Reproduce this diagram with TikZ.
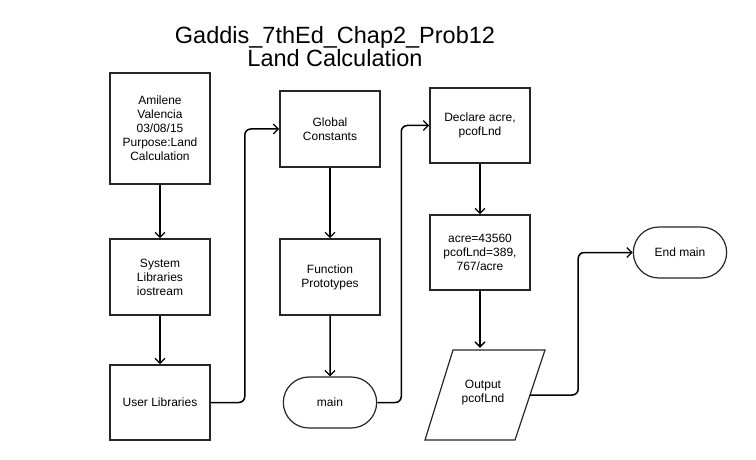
\documentclass[tikz,border=0pt]{standalone}
\usepackage{fontspec}
\setmainfont{Liberation Sans}
\usetikzlibrary{arrows.meta,shapes.misc}
\tikzset{
  box/.style={draw=black!85,line width=1.6pt,minimum width=100pt,align=center,font=\fontsize{12}{14}\selectfont,inner sep=2pt},
  term/.style={draw=black!85,line width=1.2pt,rounded rectangle,minimum width=100pt,minimum height=51pt,font=\fontsize{12}{14}\selectfont},
  io/.style={minimum width=90pt,minimum height=90pt,align=center,font=\fontsize{12}{14}\selectfont},
  ioshape/.style={draw=black!85,line width=1.2pt,line join=miter},
  flow/.style={line width=1.5pt,black,-{Straight Barb[length=5pt,width=10pt,line width=1.3pt]}},
  elbow/.style={flow,rounded corners=6pt}
}
\begin{document}
\begin{tikzpicture}[x=1pt,y=-1pt]
\useasboundingbox (0,0) rectangle (756,460);
\node[align=center,font=\fontsize{23.5}{23}\selectfont] (title) at (335,47) {Gaddis\_7thEd\_Chap2\_Prob12\\Land Calculation};
\node[box,minimum height=111pt] (a) at (160,128.5) {Amilene\\Valencia\\03/08/15\\Purpose:Land\\Calculation};
\node[box,minimum height=76pt] (b) at (160,277) {System\\Libraries\\iostream};
\node[box,minimum height=75pt] (c) at (160,402.5) {User Libraries};
\node[box,minimum height=76pt] (d) at (330,129) {Global\\Constants};
\node[box,minimum height=76pt] (e) at (330,277) {Function\\Prototypes};
\node[term] (f) at (330,402.5) {main};
\node[box,minimum height=75pt] (g) at (480,125.5) {Declare acre,\\pcofLnd};
\node[box,minimum height=75pt] (h) at (480,252.5) {acre=43560\\pcofLnd=389,\\767/acre};
\node[io] (i) at (483,393) {Output\\pcofLnd};
\draw[ioshape] (425,440) -- (453,350) -- (545,350) -- (515,440) -- cycle;
\node[term] (j) at (680,252.5) {End main};
\draw[flow] (a) -- (b);
\draw[flow] (b) -- (c);
\draw[flow] (d) -- (e);
\draw[flow] (e) -- (f);
\draw[flow] (g) -- (h);
\draw[flow] (h.south) -- (h.south |- i.north);
\draw[elbow] (c.east) -- ++(34,0) |- (d.west);
\draw[elbow] (f.east) -- ++(24,0) |- (g.west);
\draw[elbow] (i.east) ++(2,2) -- ++(48,0) |- (j.west);
\end{tikzpicture}
\end{document}
